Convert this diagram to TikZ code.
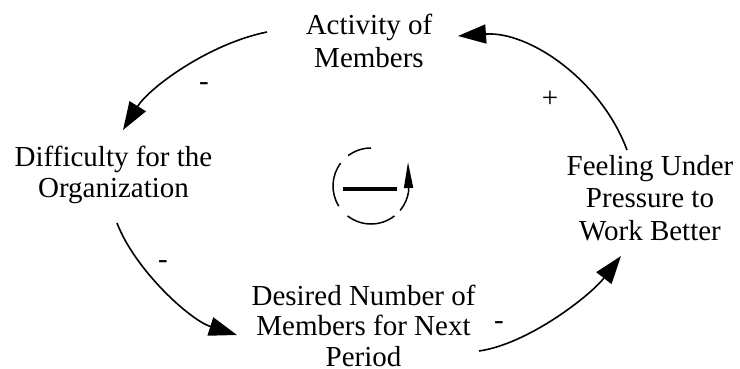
\documentclass[tikz,border=0pt]{standalone}
\usepackage{fontspec}
\setmainfont{Liberation Serif}
\usetikzlibrary{arrows.meta}
\begin{document}
\begin{tikzpicture}[x=1pt,y=-1pt,
  var/.style={align=center,anchor=base,inner sep=0pt,font=\fontsize{29pt}{#1pt}\selectfont},
  sgn/.style={anchor=base,inner sep=0pt,font=\fontsize{29pt}{31pt}\selectfont},
  link/.style={line width=1.6pt,-{Triangle[length=28pt,width=19pt]}},
  loopc/.style={line width=1.5pt}]
\useasboundingbox (0,0) rectangle (740,369);
% base anchor = baseline of the last line
\node[var=33] (act) at (369,68) {Activity of\\Members};
\node[var=31] (dif) at (113.5,197) {Difficulty for the\\Organization};
\node[var=30.5] (des) at (363.5,366) {Desired Number of\\Members for Next\\Period};
\node[var=32.5] (fee) at (650,240) {Feeling Under\\Pressure to\\Work Better};
% connector ends
\coordinate (s1) at (267,32);  \coordinate (e1) at (123,130);
\coordinate (s2) at (117,223); \coordinate (e2) at (237,335);
\coordinate (s3) at (479,351); \coordinate (e3) at (621,256);
\coordinate (s4) at (627,150); \coordinate (e4) at (458,36);
\draw[link] (s1) .. controls (208,44) and (149,88) .. (e1);
\draw[link] (s2) .. controls (135,270) and (190,320) .. (e2);
\draw[link] (s3) .. controls (528,344) and (590,296) .. (e3);
\draw[link] (s4) .. controls (601,80) and (529,31) .. (e4);
% polarity signs
\node[sgn] (p1) at (204,90.5) {-};
\node[sgn] (p2) at (163,268.5) {-};
\node[sgn] (p3) at (499,329.5) {-};
\node[sgn] (p4) at (550,107) {+};
% loop symbol
\coordinate (lc) at (371,186);
\draw[loopc] ([shift={(-127:38)}]lc) arc[start angle=-127,end angle=-90,radius=38];
\draw[loopc] ([shift={(148:38)}]lc) arc[start angle=148,end angle=217,radius=38];
\draw[loopc] ([shift={(52:38)}]lc) arc[start angle=52,end angle=128,radius=38];
\draw[loopc,-{Triangle[length=26pt,width=9pt]}] ([shift={(40:38)}]lc) arc[start angle=40,end angle=8,radius=38] -- (408,162);
\draw[line width=4pt] (343,188.5) -- (397,188.5);
\end{tikzpicture}
\end{document}
